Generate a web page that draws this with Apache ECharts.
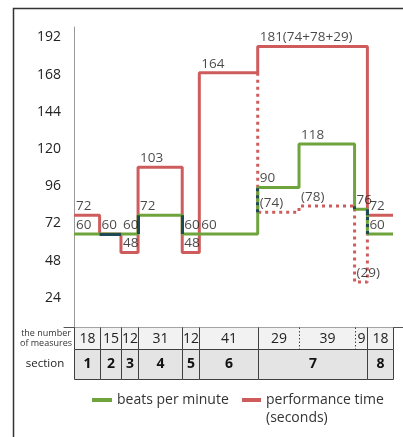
<!DOCTYPE html>
<html>
<head>
<meta charset="utf-8">
<script src="https://cdn.jsdelivr.net/npm/echarts@6/dist/echarts.min.js"></script>
<style>html,body{margin:0;padding:0;background:#fff}#chart{width:403px;height:437px}</style>
</head>
<body>
<div id="chart"></div>
<script>
// one entry per measure column of the table
var measures = [18, 15, 12, 31, 12, 41, 29, 39, 9, 18];
var sectionOf = [1, 2, 3, 4, 5, 6, 7, 7, 7, 8];
var bpm = [60, 60, 60, 72, 60, 60, 90, 118, 76, 60];
var partSeconds = [null, null, null, null, null, null, 74, 78, 29, null]; // section 7 broken down
// one entry per section
var sectionNames = ['1', '2', '3', '4', '5', '6', '7', '8'];
var sectionSeconds = [72, 60, 48, 103, 48, 164, 181, 72];
var yTicks = [24, 48, 72, 96, 120, 144, 168, 192];

var RED = '#cf5c5c', GREEN = '#6fa43c', DARK = '#1f4a53';
var FONT = '"Open Sans", sans-serif';

var chart = echarts.init(document.getElementById('chart'));

var starts = [], ends = [], acc = 0;
measures.forEach(function (m) { starts.push(acc); acc += m; ends.push(acc); });
var total = acc;
var colSeconds = sectionOf.map(function (s) { return sectionSeconds[s - 1]; });

var greenData = starts.map(function (x, i) { return [x, bpm[i]]; });
greenData.push([total, bpm[bpm.length - 1]]);
var redData = starts.map(function (x, i) { return [x, colSeconds[i]]; });
redData.push([total, colSeconds[colSeconds.length - 1]]);

var parts = [];
partSeconds.forEach(function (v, i) { if (v != null) parts.push(i); });
var firstPart = parts[0], lastPart = parts[parts.length - 1];
var dottedData = [[starts[firstPart], colSeconds[firstPart - 1]]];
parts.forEach(function (i) { dottedData.push([starts[i], partSeconds[i]]); });
dottedData.push([ends[lastPart], colSeconds[lastPart + 1]]);

// where the two curves run on top of each other the line is drawn dark
function overlap(a0, a1, b0, b1) {
    var lo = Math.max(Math.min(a0, a1), Math.min(b0, b1));
    var hi = Math.min(Math.max(a0, a1), Math.max(b0, b1));
    return hi > lo ? [lo, hi] : null;
}
function partAt(i) { return partSeconds[i] != null ? partSeconds[i] : colSeconds[i]; }
var darkSolid = [], darkDotted = [];
bpm.forEach(function (v, i) {
    if (v === colSeconds[i]) darkSolid.push({ coords: [[starts[i], v], [ends[i], v]] });
    if (i === 0) return;
    var x = starts[i];
    var o = overlap(bpm[i - 1], v, colSeconds[i - 1], colSeconds[i]);
    if (o) darkSolid.push({ coords: [[x, o[0]], [x, o[1]]] });
    if (partSeconds[i - 1] != null || partSeconds[i] != null) {
        var d = overlap(bpm[i - 1], v, partAt(i - 1), partAt(i));
        if (d) darkDotted.push({ coords: [[x, d[0]], [x, d[1]]] });
    }
});

var labelData = [];
bpm.forEach(function (v, i) { labelData.push({ name: String(v), value: [starts[i], v] }); });
sectionSeconds.forEach(function (v, s) {
    var i = sectionOf.indexOf(s + 1);
    if (v === bpm[i]) return;
    var text = String(v);
    if (s + 1 === sectionOf[firstPart]) {
        text += '(' + parts.map(function (p) { return partSeconds[p]; }).join('+') + ')';
    }
    labelData.push({ name: text, value: [starts[i], v] });
});
parts.forEach(function (i) {
    labelData.push({ name: '(' + partSeconds[i] + ')', value: [starts[i], partSeconds[i]] });
});

var BORDER = '#404040';
function vline(x, y0, y1, dash) {
    return { type: 'line', shape: { x1: x, y1: y0, x2: x, y2: y1 },
        style: { stroke: BORDER, lineWidth: 1, lineDash: dash ? [1.5, 2] : null } };
}
function px(v) { return Math.round(v) + 0.5; }

function renderMeasure(params, api) {
    var i = api.value(0);
    var p0 = api.coord([starts[i], 0]), p1 = api.coord([ends[i], 0]);
    var x0 = px(p0[0]), x1 = px(p1[0]), y0 = px(p0[1]), h = 22;
    var kids = [
        { type: 'rect', shape: { x: x0, y: y0, width: x1 - x0, height: h }, style: { fill: '#f2f2f2' } },
        vline(x0, y0, y0 + h, i > 0 && sectionOf[i] === sectionOf[i - 1]),
        { type: 'text', style: { text: String(measures[i]), x: (x0 + x1) / 2, y: y0 + h / 2 + 1,
            align: 'center', verticalAlign: 'middle', font: '14px ' + FONT, fill: '#222' } }
    ];
    if (i === measures.length - 1) kids.push(vline(x1, y0, y0 + h, false));
    return { type: 'group', children: kids };
}

function renderSection(params, api) {
    var s = api.value(0);
    var a = sectionOf.indexOf(s + 1), b = sectionOf.lastIndexOf(s + 1);
    var p0 = api.coord([starts[a], 0]), p1 = api.coord([ends[b], 0]);
    var x0 = px(p0[0]), x1 = px(p1[0]), y0 = px(p0[1]) + 22, h = 30;
    return { type: 'group', children: [
        { type: 'rect', shape: { x: x0, y: y0, width: x1 - x0, height: h },
            style: { fill: '#e4e4e4', stroke: BORDER, lineWidth: 1 } },
        { type: 'text', style: { text: sectionNames[s], x: (x0 + x1) / 2, y: y0 + h / 2,
            align: 'center', verticalAlign: 'middle', font: 'bold 14px ' + FONT, fill: '#111' } }
    ] };
}

var option = {
    animation: false,
    backgroundColor: '#fff',
    grid: { left: 64, right: 0, top: 27, bottom: 110 },
    xAxis: {
        type: 'value', min: -7, max: 231,
        axisLine: { lineStyle: { color: '#555', width: 1 } },
        axisTick: { show: false }, axisLabel: { show: false }, splitLine: { show: false }
    },
    yAxis: {
        type: 'value', min: 0, max: 193.5,
        axisLine: { show: true, lineStyle: { color: '#999', width: 1 } },
        axisTick: { show: false }, splitLine: { show: false },
        axisLabel: { customValues: yTicks, margin: 3, color: '#222', fontSize: 14,
            fontFamily: FONT, verticalAlign: 'top', lineHeight: 16 }
    },
    legend: [
        { data: ['beats per minute'], left: 92, top: 391, padding: 0, selectedMode: false,
            icon: 'rect', itemWidth: 20, itemHeight: 4,
            textStyle: { fontFamily: FONT, fontSize: 14, color: '#333', lineHeight: 18 } },
        { data: ['performance time (seconds)'], left: 242, top: 373, padding: 0, selectedMode: false,
            icon: 'rect', itemWidth: 19, itemHeight: 4,
            // leading blank line keeps the first text line level with the icon
            formatter: function () { return ' \nperformance time\n(seconds)'; },
            textStyle: { fontFamily: FONT, fontSize: 14, color: '#333', lineHeight: 18 } }
    ],
    graphic: [
        { type: 'rect', shape: { x: 13.5, y: 8.5, width: 420, height: 460 },
            style: { fill: 'none', stroke: '#333', lineWidth: 1.5 }, z: 100 },
        { type: 'text', x: 46, y: 333, style: { text: 'the number', align: 'center',
            verticalAlign: 'middle', font: '9px ' + FONT, fill: '#333' } },
        { type: 'text', x: 46, y: 343, style: { text: 'of measures', align: 'center',
            verticalAlign: 'middle', font: '9px ' + FONT, fill: '#333' } },
        { type: 'text', x: 45, y: 364, style: { text: 'section', align: 'center',
            verticalAlign: 'middle', font: '11.5px ' + FONT, fill: '#222' } }
    ],
    series: [
        { name: 'performance time (seconds)', type: 'line', step: 'end', data: redData,
            symbol: 'none', lineStyle: { color: RED, width: 3 }, itemStyle: { color: RED }, z: 2 },
        { name: 'parts', type: 'line', step: 'end', data: dottedData, symbol: 'none',
            lineStyle: { color: RED, width: 3, type: [3, 4] }, z: 2 },
        { name: 'beats per minute', type: 'line', step: 'end', data: greenData,
            symbol: 'none', lineStyle: { color: GREEN, width: 3 }, itemStyle: { color: GREEN }, z: 3 },
        { name: 'both', type: 'lines', coordinateSystem: 'cartesian2d', data: darkSolid,
            lineStyle: { color: DARK, width: 3, opacity: 1 }, z: 4 },
        { name: 'both parts', type: 'lines', coordinateSystem: 'cartesian2d', data: darkDotted,
            lineStyle: { color: DARK, width: 3, opacity: 1, type: [3, 4] }, z: 4 },
        { name: 'labels', type: 'scatter', data: labelData, symbolSize: 0, silent: true, z: 5,
            label: { show: true, position: [2, -2], align: 'left', verticalAlign: 'bottom',
                formatter: '{b}', fontFamily: FONT, fontSize: 13.5, color: '#1a1a1a' } },
        { name: 'measures', type: 'custom', renderItem: renderMeasure, clip: false, silent: true,
            data: measures.map(function (m, i) { return [i, m]; }), z: 1 },
        { name: 'sections', type: 'custom', renderItem: renderSection, clip: false, silent: true,
            data: sectionNames.map(function (n, s) { return [s, 0]; }), z: 1 }
    ]
};
chart.setOption(option);
</script>
</body>
</html>
